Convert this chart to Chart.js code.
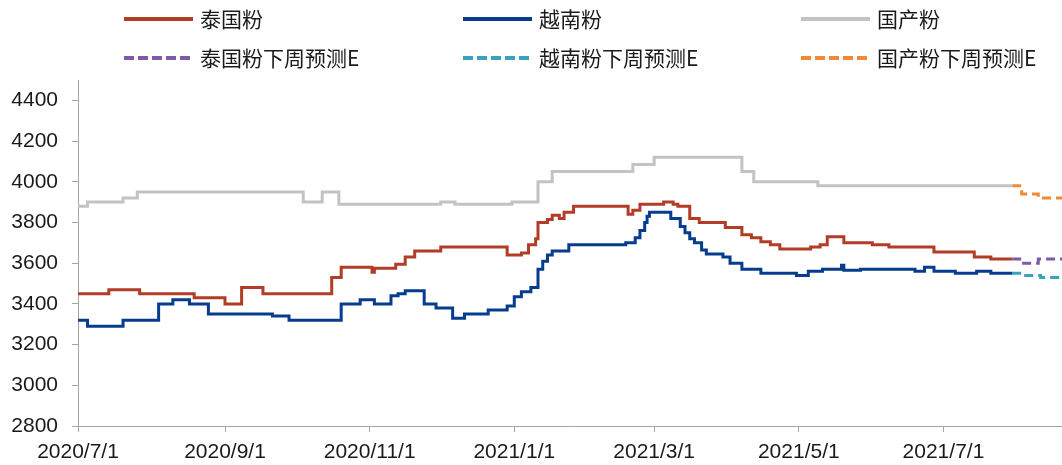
<!DOCTYPE html>
<html><head><meta charset="utf-8">
<script src="https://cdn.jsdelivr.net/npm/chart.js@4.4.1/dist/chart.umd.min.js"></script>
<style>
html,body{margin:0;padding:0;background:#fff;}
#wrap{position:relative;width:1062px;height:465px;overflow:hidden;background:#fff;}
#c{position:absolute;left:0;top:0;}
.lg{position:absolute;font-family:"Noto Sans CJK SC","Noto Sans";font-size:21px;color:#1a1a1a;line-height:26px;white-space:nowrap;}
.sw{position:absolute;}
</style></head><body>
<div id="wrap"><canvas id="c" width="1062" height="465"></canvas></div>
<script>
// ---- data ----
const tickDates  = ['2020-07-01','2020-09-01','2020-11-01','2021-01-01','2021-03-01','2021-05-01','2021-07-01'];
const tickLabels = ['2020/7/1','2020/9/1','2020/11/1','2021/1/1','2021/3/1','2021/5/1','2021/7/1'];
const yTicks = [2800,3000,3200,3400,3600,3800,4000,4200,4400];
const seriesNames = ['泰国粉','越南粉','国产粉','泰国粉下周预测E','越南粉下周预测E','国产粉下周预测E'];

const thaiDates = ['2020-07-01','2020-07-14','2020-07-27','2020-08-19','2020-09-01','2020-09-08','2020-09-17','2020-10-16','2020-10-20','2020-11-02','2020-11-03','2020-11-12','2020-11-16','2020-11-20','2020-12-01','2020-12-29','2021-01-04','2021-01-07','2021-01-10','2021-01-11','2021-01-15','2021-01-17','2021-01-20','2021-01-22','2021-01-26','2021-02-18','2021-02-20','2021-02-23','2021-03-05','2021-03-09','2021-03-11','2021-03-16','2021-03-20','2021-03-31','2021-04-07','2021-04-11','2021-04-15','2021-04-19','2021-04-23','2021-05-06','2021-05-10','2021-05-13','2021-05-20','2021-06-01','2021-06-08','2021-06-27','2021-07-14','2021-07-21','2021-07-30'];
const thaiValues = [3450,3470,3450,3430,3400,3480,3450,3530,3580,3555,3575,3595,3630,3660,3680,3640,3650,3690,3720,3800,3815,3835,3820,3850,3880,3840,3860,3890,3900,3890,3880,3820,3800,3775,3740,3725,3705,3690,3670,3680,3690,3730,3700,3690,3680,3655,3630,3620,3620];

const vietDates = ['2020-07-01','2020-07-05','2020-07-20','2020-08-04','2020-08-10','2020-08-17','2020-08-25','2020-09-21','2020-09-28','2020-10-20','2020-10-28','2020-11-03','2020-11-10','2020-11-13','2020-11-16','2020-11-24','2020-11-29','2020-12-06','2020-12-11','2020-12-21','2020-12-29','2021-01-01','2021-01-04','2021-01-08','2021-01-11','2021-01-13','2021-01-15','2021-01-17','2021-01-24','2021-02-17','2021-02-21','2021-02-23','2021-02-25','2021-02-26','2021-02-27','2021-03-08','2021-03-12','2021-03-14','2021-03-16','2021-03-18','2021-03-21','2021-03-23','2021-03-30','2021-04-02','2021-04-07','2021-04-15','2021-04-30','2021-05-05','2021-05-11','2021-05-19','2021-05-20','2021-05-27','2021-06-19','2021-06-23','2021-06-27','2021-07-06','2021-07-15','2021-07-21','2021-07-30'];
const vietValues = [3320,3290,3320,3400,3420,3400,3350,3340,3320,3400,3420,3400,3440,3450,3465,3400,3380,3330,3350,3370,3390,3435,3460,3480,3570,3610,3640,3660,3690,3700,3725,3760,3800,3830,3850,3820,3780,3750,3720,3700,3665,3645,3630,3600,3570,3550,3540,3560,3570,3590,3565,3570,3560,3580,3560,3550,3560,3550,3550];

const domDates = ['2020-07-01','2020-07-05','2020-07-20','2020-07-26','2020-10-04','2020-10-12','2020-10-19','2020-12-01','2020-12-07','2020-12-31','2021-01-11','2021-01-17','2021-02-20','2021-03-01','2021-04-07','2021-04-12','2021-05-09','2021-07-30'];
const domValues = [3880,3900,3920,3950,3900,3950,3890,3900,3890,3900,4000,4050,4085,4120,4050,4000,3980,3980];

const thaiFcDates = ['2021-07-30','2021-08-03','2021-08-10','2021-08-20'];
const thaiFcValues = [3620,3600,3620,3620];
const vietFcDates = ['2021-07-30','2021-08-03','2021-08-11','2021-08-20'];
const vietFcValues = [3550,3540,3530,3530];
const domFcDates = ['2021-07-30','2021-08-03','2021-08-10','2021-08-20'];
const domFcValues = [3980,3940,3920,3920];

// ---- helpers ----
const T0 = Date.UTC(2020,6,1);
function dayOf(s){const p=s.split('-').map(Number);return (Date.UTC(p[0],p[1]-1,p[2])-T0)/86400000;}
function pts(d,v){return d.map((s,i)=>({x:dayOf(s),y:v[i]}));}
const tickDays = tickDates.map(dayOf);

const colors = ['#B23D27','#063C8D','#C3C3C3','#7D5BA6','#3AA2BD','#EE8A33'];
const dashed = [false,false,false,true,true,true];
const sets = [pts(thaiDates,thaiValues),pts(vietDates,vietValues),pts(domDates,domValues),pts(thaiFcDates,thaiFcValues),pts(vietFcDates,vietFcValues),pts(domFcDates,domFcValues)];

const datasets = sets.map((d,i)=>({
  label: seriesNames[i], data: d, borderColor: colors[i], backgroundColor: colors[i],
  borderWidth: 3, pointRadius: 0, stepped: 'before', fill: false,
  borderDash: dashed[i] ? [9,5] : [], borderCapStyle: 'butt'
}));

const axisColor = '#A6A6A6';
new Chart(document.getElementById('c'), {
  type: 'line',
  data: { datasets },
  options: {
    responsive: false, animation: false, devicePixelRatio: 1,
    layout: { padding: { top: 80, left: 0, right: 0, bottom: 0 } },
    plugins: { legend: { display: false }, tooltip: { enabled: false } },
    scales: {
      x: {
        type: 'linear', min: 0, max: 415,
        afterBuildTicks: s => { s.ticks = tickDays.map(v => ({ value: v })); },
        afterFit: s => { s.height = 39; },
        border: { color: axisColor, width: 1 },
        grid: { drawOnChartArea: false, drawTicks: true, tickLength: 6, color: axisColor },
        ticks: {
          autoSkip: false, maxRotation: 0, padding: 8, color: '#1a1a1a',
          font: { family: 'Liberation Sans', size: 21 },
          callback: v => { const i = tickDays.indexOf(v); return i >= 0 ? tickLabels[i] : ''; }
        }
      },
      y: {
        type: 'linear', min: 2800, max: 4500,
        afterBuildTicks: s => { s.ticks = yTicks.map(v => ({ value: v })); },
        afterFit: s => { s.width = 78; },
        border: { color: axisColor, width: 1 },
        grid: { drawOnChartArea: false, drawTicks: true, tickLength: 6, color: axisColor },
        ticks: { padding: 14, color: '#1a1a1a', font: { family: 'Liberation Sans', size: 21 },
          callback: v => String(v) }
      }
    }
  }
});

// ---- HTML legend ----
const legendCols = [124, 463, 801];
const legendRows = [19, 58];
const wrap = document.getElementById('wrap');
seriesNames.forEach((name, i) => {
  const col = i % 3, row = Math.floor(i / 3);
  const x = legendCols[col], y = legendRows[row];
  const svgNS = 'http://www.w3.org/2000/svg';
  const svg = document.createElementNS(svgNS, 'svg');
  svg.setAttribute('width', '70'); svg.setAttribute('height', '8');
  svg.setAttribute('class', 'sw');
  svg.style.left = x + 'px'; svg.style.top = (y - 4) + 'px';
  const ln = document.createElementNS(svgNS, 'line');
  ln.setAttribute('x1', '0'); ln.setAttribute('x2', '69'); ln.setAttribute('y1', '4'); ln.setAttribute('y2', '4');
  ln.setAttribute('stroke', colors[i]); ln.setAttribute('stroke-width', '4');
  if (dashed[i]) ln.setAttribute('stroke-dasharray', '10 4');
  svg.appendChild(ln); wrap.appendChild(svg);
  const t = document.createElement('div');
  t.className = 'lg'; t.textContent = name;
  t.style.left = (x + 76) + 'px'; t.style.top = (y - 14) + 'px';
  wrap.appendChild(t);
});
</script>
</body></html>
